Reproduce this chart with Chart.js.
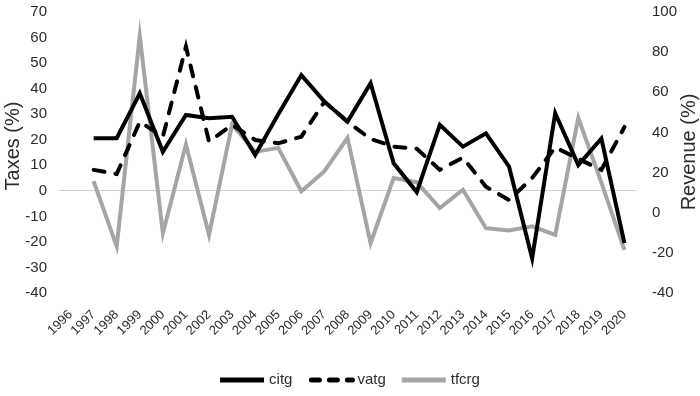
<!DOCTYPE html>
<html>
<head>
<meta charset="utf-8">
<script src="https://cdn.jsdelivr.net/npm/chart.js@4"></script>
<style>
  body { margin: 0; background: #fff; }
</style>
</head>
<body>
<canvas id="line-chart" width="700" height="396"></canvas>
<script>
// data
var years = ["1996", "1997", "1998", "1999", "2000", "2001", "2002", "2003", "2004", "2005", "2006", "2007", "2008",
  "2009", "2010", "2011", "2012", "2013", "2014", "2015", "2016", "2017", "2018", "2019", "2020"];
var citg = [null, 20.6, 20.6, 38.2, 15.3, 29.7, 28.4, 29.0, 14.0, 30.0, 45.3, 34.9, 27.1,
  42.1, 10.8, -0.5, 25.8, 17.3, 22.5, 9.5, -26.4, 30.4, 10.1, 20.5, -20.5];
var vatg = [null, 8.2, 6.6, 27.0, 21.2, 56.4, 19.3, 25.8, 19.9, 18.6, 21.2, 34.9, 27.0,
  20.3, 17.3, 16.5, 8.2, 13.0, 1.6, -3.6, 5.0, 17.0, 12.5, 8.2, 25.0];
// tfcrg is on the right (revenue) axis
var tfcrg = [null, 15.7, -16.8, 88.2, -10.2, 34.0, -11.0, 44.0, 30.3, 32.3, 10.7, 20.7, 37.3,
  -15.2, 17.3, 15.2, 2.3, 11.5, -7.7, -8.8, -6.8, -11.0, 47.3, 15.0, -18.5];
var leftTitle = "Taxes (%)";
var rightTitle = "Revenue (%)";

var FONT = "'Liberation Sans', Arial, sans-serif";
var TXT = "#2b2b2b";

// both axis titles read bottom-to-top, so draw them by hand
function vText(ctx, text, x, y) {
  ctx.save();
  ctx.fillStyle = TXT;
  ctx.font = "20px " + FONT;
  ctx.textAlign = "center";
  ctx.textBaseline = "middle";
  ctx.translate(x, y);
  ctx.rotate(-Math.PI / 2);
  ctx.fillText(text, 0, 0);
  ctx.restore();
}

var axisTitles = {
  id: "axisTitles",
  afterDraw: function(chart) {
    vText(chart.ctx, leftTitle, 13, 146);
    vText(chart.ctx, rightTitle, 689, 152);
  }
};

// legend with line samples (the dashed one has to stay dashed)
var lineLegend = {
  id: "lineLegend",
  afterDraw: function(chart) {
    var ctx = chart.ctx;
    var sw = 44, gapTxt = 5, gapItem = 16, cy = 380;
    ctx.save();
    ctx.font = "15px " + FONT;
    var items = chart.data.datasets.map(function(ds) {
      return { ds: ds, w: sw + gapTxt + ctx.measureText(ds.label).width };
    });
    var total = items.reduce(function(s, it) { return s + it.w; }, 0) + gapItem * (items.length - 1);
    var x = (chart.width - total) / 2;
    items.forEach(function(it) {
      ctx.beginPath();
      ctx.strokeStyle = it.ds.borderColor;
      ctx.lineWidth = 5;
      ctx.lineCap = it.ds.borderDash ? "round" : "butt";
      ctx.setLineDash(it.ds.borderDash ? [8, 10] : []);
      ctx.moveTo(x + (it.ds.borderDash ? 3 : 0), cy);
      ctx.lineTo(x + sw, cy);
      ctx.stroke();
      ctx.setLineDash([]);
      ctx.fillStyle = TXT;
      ctx.textAlign = "left";
      ctx.textBaseline = "middle";
      ctx.fillText(it.ds.label, x + sw + gapTxt, cy);
      x += it.w + gapItem;
    });
    ctx.restore();
  }
};

data_ = {
  labels: years,
  datasets: [{
    label: "citg",
    data: citg,
    yAxisID: "y",
    borderColor: "#000000",
    backgroundColor: "#000000",
    borderWidth: 4,
    pointRadius: 0,
    tension: 0
  }, {
    label: "vatg",
    data: vatg,
    yAxisID: "y",
    borderColor: "#000000",
    backgroundColor: "#000000",
    borderWidth: 4,
    borderDash: [11, 11],
    borderCapStyle: "round",
    pointRadius: 0,
    tension: 0
  }, {
    label: "tfcrg",
    data: tfcrg,
    yAxisID: "y1",
    borderColor: "#a5a5a5",
    backgroundColor: "#a5a5a5",
    borderWidth: 4,
    pointRadius: 0,
    tension: 0
  }]
};

function noPad(scale) {
  scale.paddingTop = 0;
  scale.paddingBottom = 0;
  scale.paddingLeft = 0;
  scale.paddingRight = 0;
}

options_ = {
  responsive: false,
  animation: false,
  layout: { padding: { top: 12, left: 0, right: 0, bottom: 0 } },
  plugins: {
    legend: { display: false },
    tooltip: { enabled: false }
  },
  scales: {
    x: {
      offset: true,
      grid: { display: false, drawTicks: false, offset: true },
      border: { display: false },
      ticks: {
        color: TXT,
        font: { family: FONT, size: 13 },
        minRotation: 45,
        maxRotation: 45,
        padding: 14,
        autoSkip: false
      },
      afterFit: function(scale) { noPad(scale); scale.height = 103; }
    },
    y: {
      position: "left",
      min: -40,
      max: 70,
      grid: {
        drawTicks: false,
        lineWidth: 1,
        color: function(c) { return c.tick && c.tick.value === 0 ? "#d0d0d0" : "rgba(0,0,0,0)"; }
      },
      border: { display: false },
      ticks: {
        stepSize: 10,
        color: TXT,
        padding: 12,
        font: { family: FONT, size: 15 }
      },
      afterFit: function(scale) { noPad(scale); scale.width = 59; }
    },
    y1: {
      position: "right",
      min: -40,
      max: 100,
      grid: { display: false, drawTicks: false },
      border: { display: false },
      ticks: {
        stepSize: 20,
        color: TXT,
        padding: 16,
        font: { family: FONT, size: 15 }
      },
      afterFit: function(scale) { noPad(scale); scale.width = 64; }
    }
  }
};

new Chart(document.getElementById("line-chart"), {
  type: "line",
  data: data_,
  options: options_,
  plugins: [axisTitles, lineLegend]
});
</script>
</body>
</html>
